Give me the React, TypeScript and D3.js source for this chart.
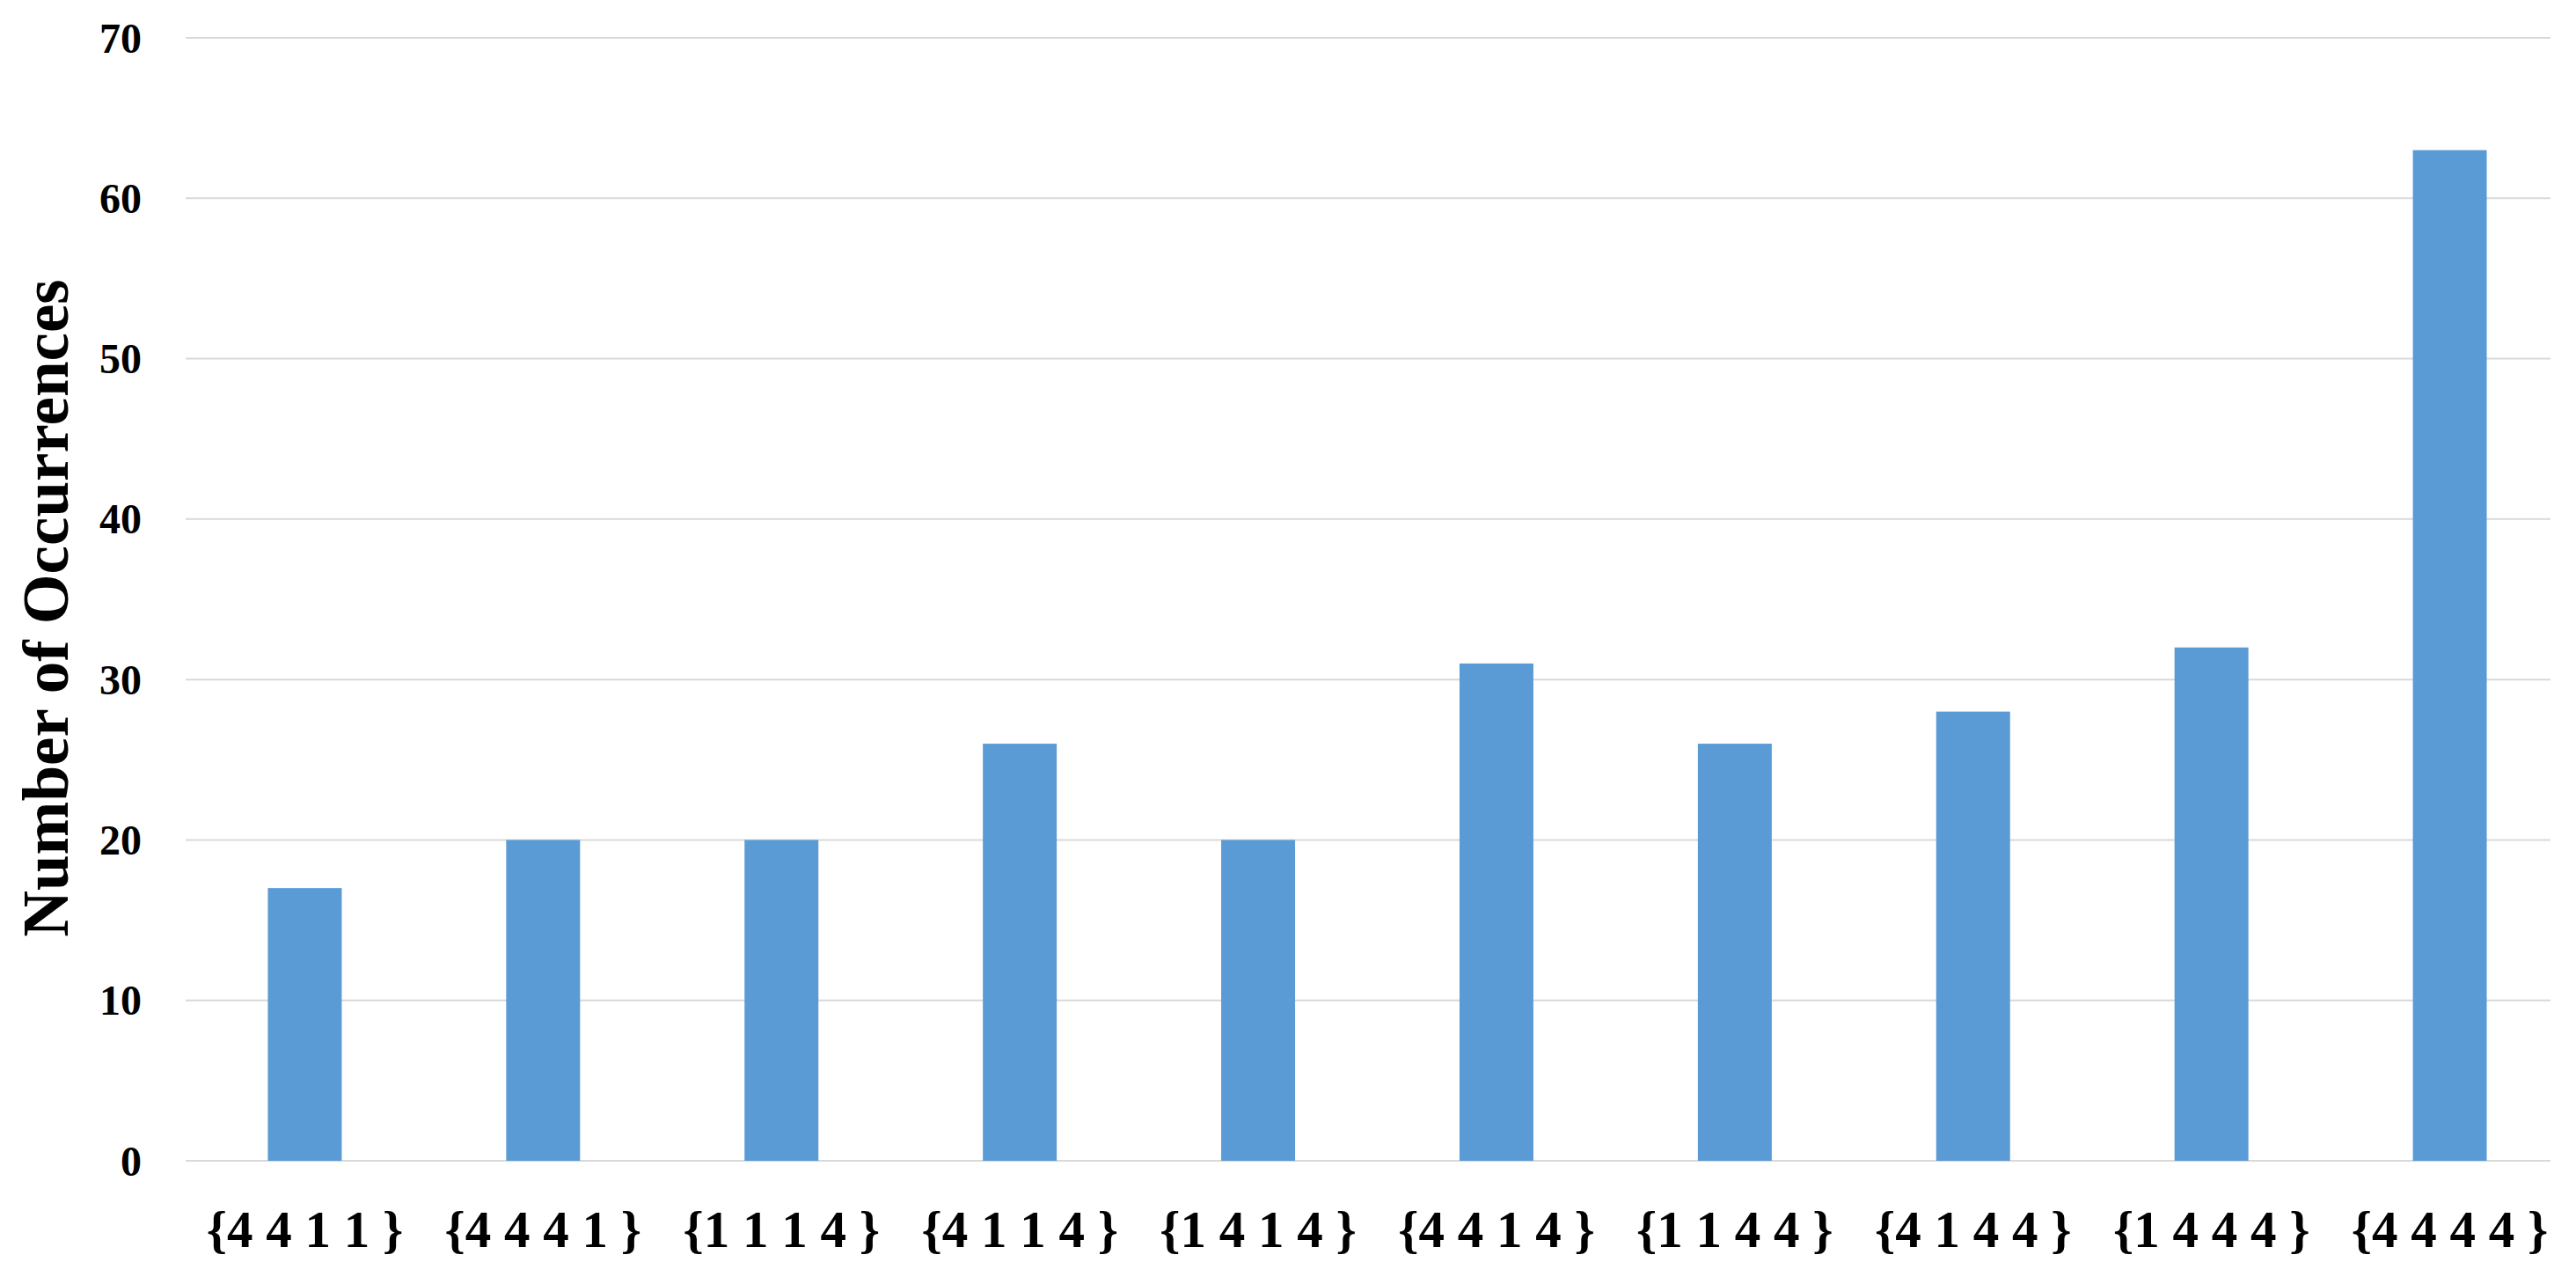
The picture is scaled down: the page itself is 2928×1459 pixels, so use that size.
import { useEffect } from 'react';
import * as d3 from 'd3';

// chart data
const categories = [
  '{4 4 1 1 }', '{4 4 4 1 }', '{1 1 1 4 }', '{4 1 1 4 }', '{1 4 1 4 }',
  '{4 4 1 4 }', '{1 1 4 4 }', '{4 1 4 4 }', '{1 4 4 4 }', '{4 4 4 4 }',
];
const occurrences = [17, 20, 20, 26, 20, 31, 26, 28, 32, 63];
const yTicks = [0, 10, 20, 30, 40, 50, 60, 70];
const yTitle = 'Number of Occurrences';

const W = 2928;
const H = 1459;
const plotLeft = 211;
const gridRight = 2899;
const bandRight = 2920;
const plotTop = 43;
const plotBottom = 1319;
const FONT = '"Liberation Serif", "DejaVu Serif", serif';

export default function App() {
  useEffect(() => {
    document.body.style.margin = '0';
  }, []);

  const x = d3.scaleBand<string>()
    .domain(categories)
    .range([plotLeft, bandRight])
    .paddingInner(0.69)
    .paddingOuter(0.345);

  const y = d3.scaleLinear()
    .domain([0, 70])
    .range([plotBottom, plotTop]);

  return (
    <svg width={W} height={H} style={{ display: 'block', background: '#fff' }}>
      {/* grid lines */}
      {yTicks.map(t => (
        <line key={t}
          x1={plotLeft} x2={gridRight}
          y1={y(t)} y2={y(t)}
          stroke="#d9d9d9" strokeWidth={2} />
      ))}

      {/* y tick labels */}
      {yTicks.map(t => (
        <text key={'l' + t}
          x={plotLeft - 50} y={y(t)}
          textAnchor="end" dominantBaseline="central"
          fontFamily={FONT} fontWeight="bold" fontSize={48} fill="#000">
          {t}
        </text>
      ))}

      {/* bars */}
      {categories.map((c, i) => (
        <rect key={c}
          x={x(c)} y={y(occurrences[i])}
          width={x.bandwidth()} height={y(0) - y(occurrences[i])}
          fill="#5b9bd5" />
      ))}

      {/* x labels */}
      {categories.map(c => (
        <text key={'x' + c}
          x={(x(c) ?? 0) + x.bandwidth() / 2} y={1397}
          textAnchor="middle" dominantBaseline="central"
          fontFamily={FONT} fontWeight="bold" fontSize={59} fill="#000">
          {c}
        </text>
      ))}

      {/* y axis title */}
      <text
        transform="translate(52,691) rotate(-90)"
        textAnchor="middle" dominantBaseline="central"
        fontFamily={FONT} fontWeight="bold" fontSize={73} fill="#000">
        {yTitle}
      </text>
    </svg>
  );
}
